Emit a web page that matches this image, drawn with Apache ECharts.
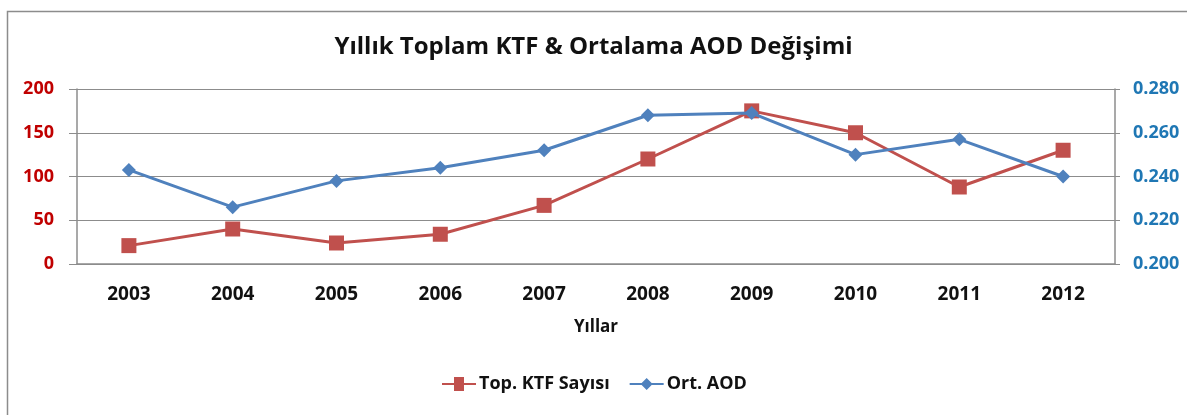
<!DOCTYPE html>
<html><head><meta charset="utf-8">
<script src="https://cdn.jsdelivr.net/npm/echarts@6/dist/echarts.min.js"></script>
<style>html,body{margin:0;padding:0;background:#fff;}#c{width:1187px;height:415px;}</style>
</head><body><div id="c"></div>
<script>
const years = ['2003','2004','2005','2006','2007','2008','2009','2010','2011','2012'];
const ktf = [21, 40, 24, 34, 67, 120, 175, 150, 88, 130];
const aod = [0.243, 0.226, 0.238, 0.244, 0.252, 0.268, 0.269, 0.250, 0.257, 0.240];
const leftTicks = [0, 50, 100, 150, 200];
const rightTicks = [0.200, 0.220, 0.240, 0.260, 0.280];

const FONT = '"Open Sans", "Noto Sans", sans-serif';
const chart = echarts.init(document.getElementById('c'), null, {renderer: 'canvas'});
chart.setOption({
  backgroundColor: '#fff',
  animation: false,
  graphic: [{
    type: 'rect', shape: {x: 7.5, y: 11.5, width: 1300, height: 500},
    style: {fill: 'none', stroke: '#8c8c8c', lineWidth: 1.5}, silent: true
  }],
  title: {
    text: 'Yıllık Toplam KTF & Ortalama AOD Değişimi',
    left: 'center', top: 30,
    textStyle: {fontFamily: FONT, fontWeight: 'bold', fontSize: 24, color: '#111'}
  },
  legend: {
    top: 370, left: 437, itemGap: 20, itemWidth: 34, itemHeight: 14,
    textStyle: {fontFamily: FONT, fontWeight: 'bold', fontSize: 18, color: '#111', padding: [0, 0, 0, -2]},
    data: [
      {name: 'Top. KTF Sayısı', icon: 'path://M0,6 L12,6 L12,0 L22,0 L22,6 L34,6 L34,8 L22,8 L22,14 L12,14 L12,8 L0,8 Z'},
      {name: 'Ort. AOD', icon: 'path://M0,6 L12,6 L17,1 L22,6 L34,6 L34,8 L22,8 L17,13 L12,8 L0,8 Z'}
    ]
  },
  grid: {left: 77, right: 72, top: 89, bottom: 151, containLabel: false},
  xAxis: {
    type: 'category', data: years, boundaryGap: true,
    name: 'Yıllar', nameLocation: 'middle', nameGap: 55,
    nameTextStyle: {fontFamily: FONT, fontWeight: 'bold', fontSize: 17, color: '#111'},
    axisLine: {lineStyle: {color: '#8c8c8c', width: 1.5}},
    axisTick: {show: false},
    axisLabel: {fontFamily: FONT, fontWeight: 'bold', fontSize: 19, color: '#111', margin: 21}
  },
  yAxis: [{
    type: 'value', min: leftTicks[0], max: leftTicks[leftTicks.length-1], interval: 50,
    axisLine: {show: true, lineStyle: {color: '#8c8c8c', width: 1.5}},
    axisTick: {show: true, length: 8, lineStyle: {color: '#8c8c8c'}},
    splitLine: {lineStyle: {color: '#8c8c8c', width: 1.2}},
    axisLabel: {fontFamily: FONT, fontWeight: 'bold', fontSize: 18, color: '#c00000', margin: 23}
  }, {
    type: 'value', min: rightTicks[0], max: rightTicks[rightTicks.length-1], interval: 0.02,
    position: 'right',
    axisLine: {show: true, lineStyle: {color: '#8c8c8c', width: 1.5}},
    axisTick: {show: true, length: 5, lineStyle: {color: '#8c8c8c'}},
    splitLine: {show: false},
    axisLabel: {fontFamily: FONT, fontWeight: 'bold', fontSize: 18, color: '#1f77b4', margin: 18,
      formatter: v => v.toFixed(3)}
  }],
  series: [{
    name: 'Top. KTF Sayısı', type: 'line', yAxisIndex: 0, data: ktf,
    symbol: 'rect', symbolSize: 15, showAllSymbol: true,
    lineStyle: {color: '#c0504d', width: 3},
    itemStyle: {color: '#c0504d'}, z: 3
  }, {
    name: 'Ort. AOD', type: 'line', yAxisIndex: 1, data: aod,
    symbol: 'diamond', symbolSize: 14, showAllSymbol: true,
    lineStyle: {color: '#4f81bd', width: 3},
    itemStyle: {color: '#4f81bd'}, z: 4
  }]
});
</script></body></html>
